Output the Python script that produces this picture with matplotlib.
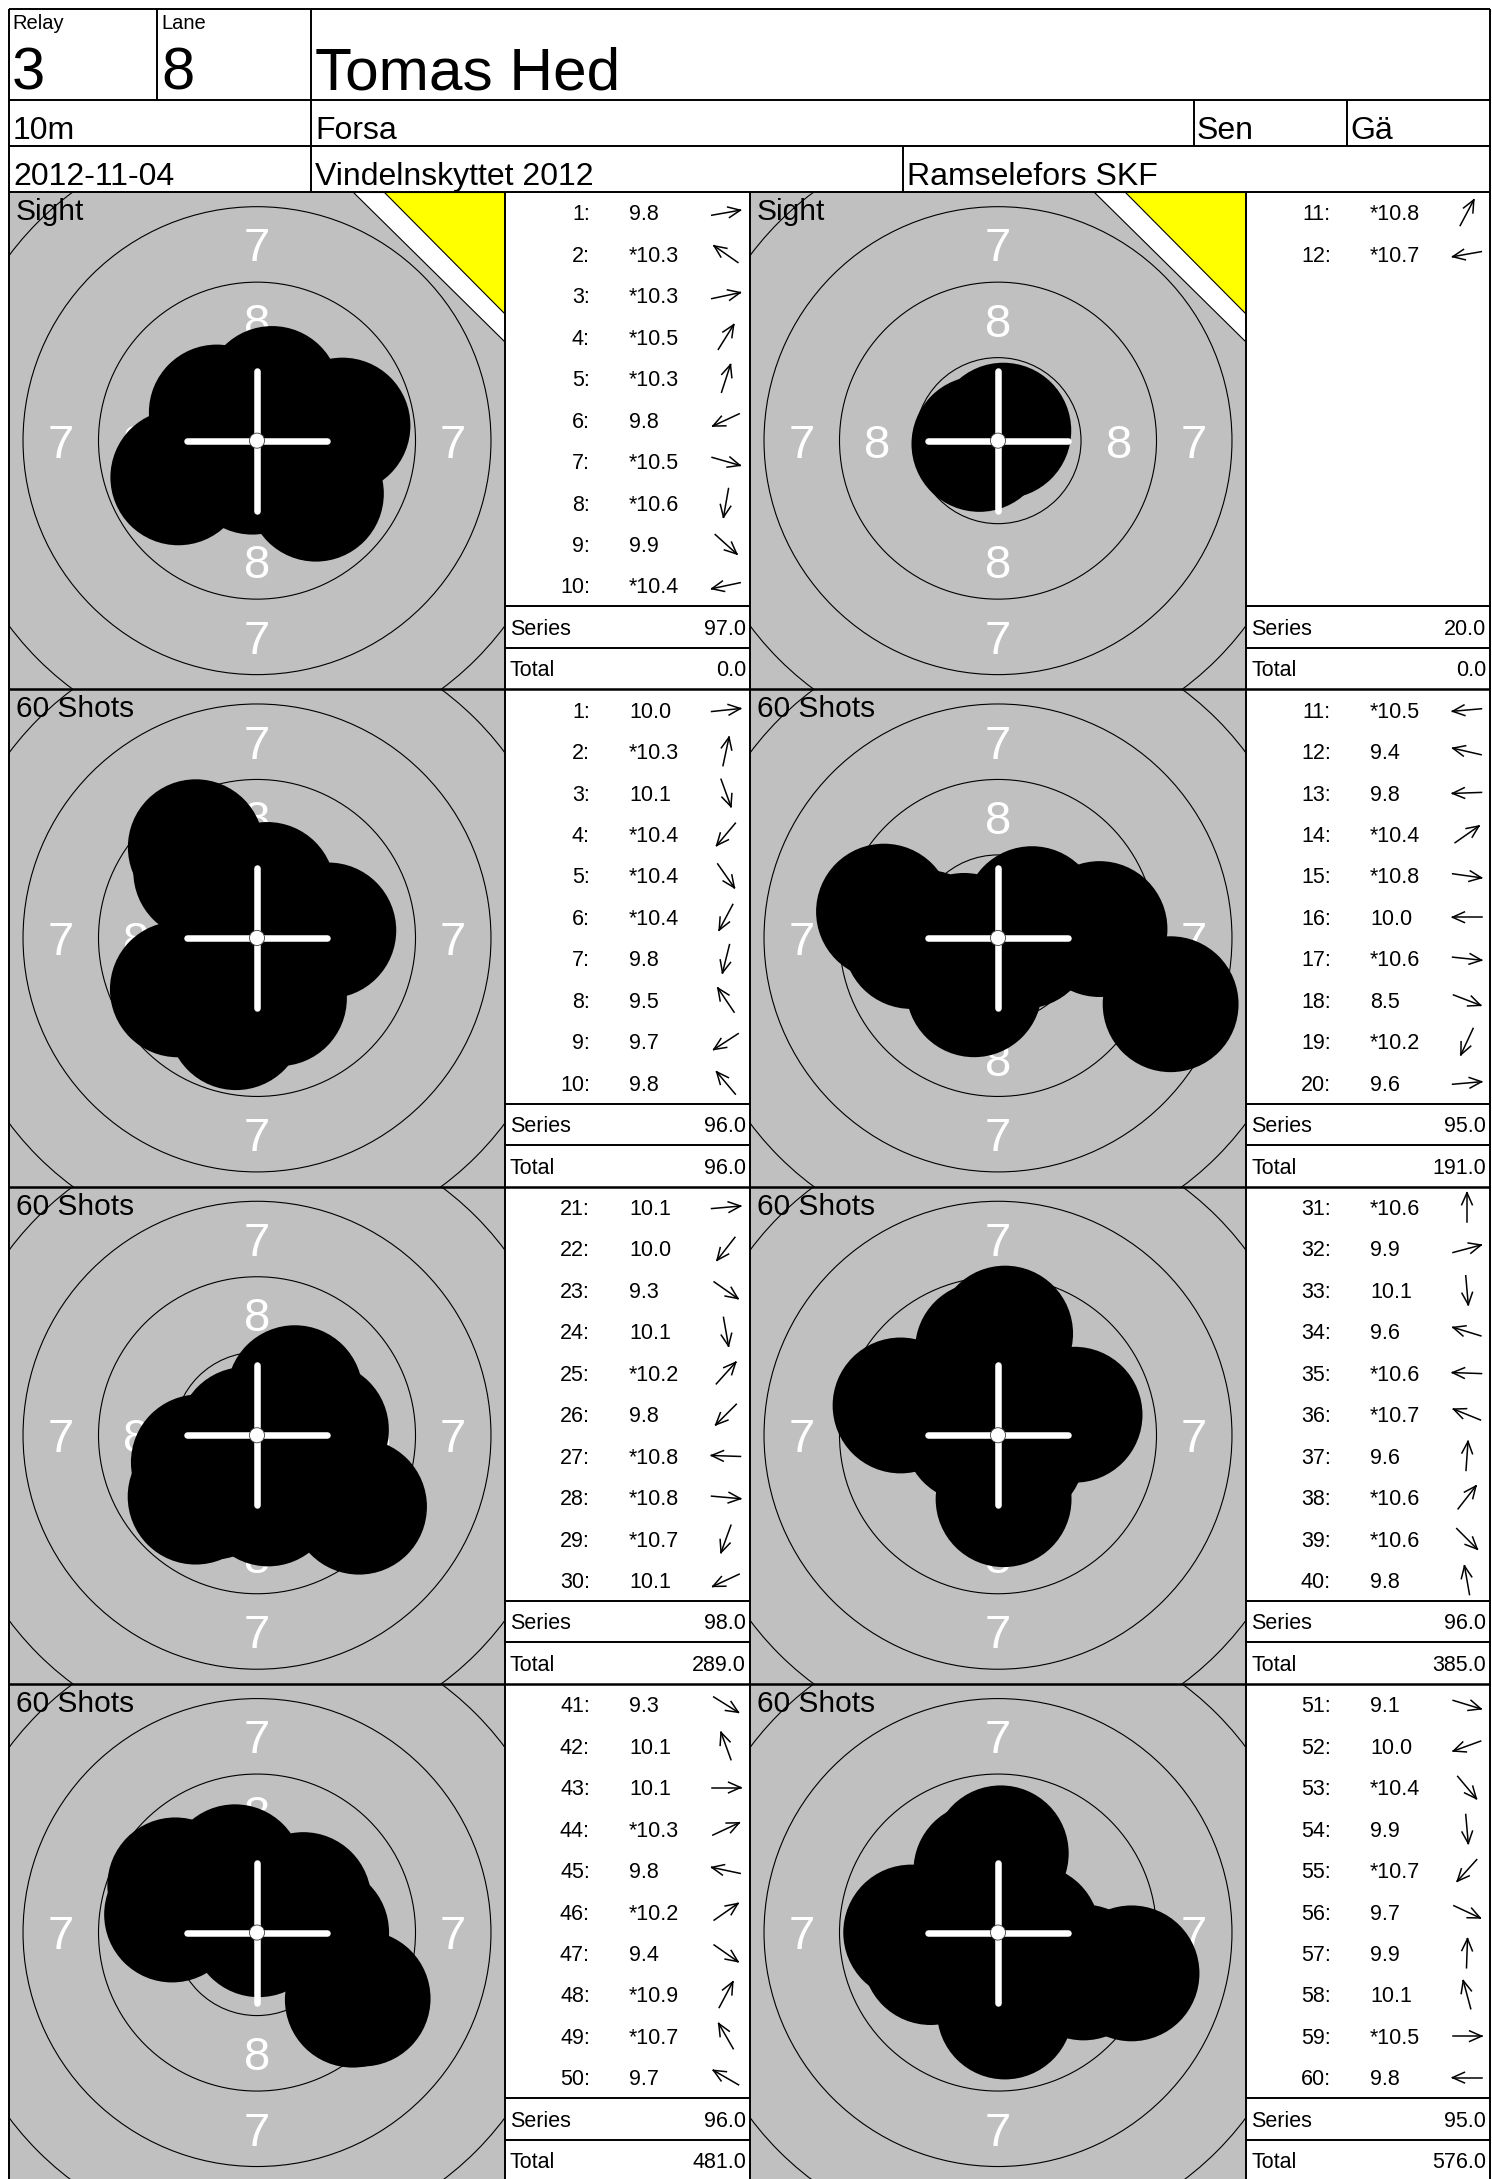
import matplotlib
matplotlib.use("Agg")
import matplotlib.pyplot as plt
from matplotlib.patches import Circle, Polygon
import numpy as np

plt.rcParams['font.family'] = ['Liberation Sans', 'DejaVu Sans']

# ---------------- data ----------------
relay = "3"
lane = "8"
shooter = "Tomas Hed"
distance = "10m"
place = "Forsa"
klass = "Sen"
district = "Gä"
date = "2012-11-04"
competition = "Vindelnskyttet 2012"
club = "Ramselefors SKF"

panel_titles = ["Sight", "Sight", "60 Shots", "60 Shots",
                "60 Shots", "60 Shots", "60 Shots", "60 Shots"]
shot_start = [1, 11, 1, 11, 21, 31, 41, 51]

scores_0 = ["9.8", "*10.3", "*10.3", "*10.5", "*10.3", "9.8", "*10.5", "*10.6", "9.9", "*10.4"]
angles_0 = [10, 145, 12, 58, 72, 205, -16, -100, -42, 192]
scores_1 = ["*10.8", "*10.7"]
angles_1 = [62, 190]
scores_2 = ["10.0", "*10.3", "10.1", "*10.4", "*10.4", "*10.4", "9.8", "9.5", "9.7", "9.8"]
angles_2 = [6, 78, -70, 230, -55, 242, 256, 124, 213, 130]
scores_3 = ["*10.5", "9.4", "9.8", "*10.4", "*10.8", "10.0", "*10.6", "8.5", "*10.2", "9.6"]
angles_3 = [185, 167, 182, 35, -8, 180, -6, -21, -115, 5]
scores_4 = ["10.1", "10.0", "9.3", "10.1", "*10.2", "9.8", "*10.8", "*10.8", "*10.7", "10.1"]
angles_4 = [5, 232, -35, -80, 48, 225, 178, -5, 250, 205]
scores_5 = ["*10.6", "9.9", "10.1", "9.6", "*10.6", "*10.7", "9.6", "*10.6", "*10.6", "9.8"]
angles_5 = [90, 15, -85, 163, 178, 158, 86, 52, -45, 100]
scores_6 = ["9.3", "10.1", "10.1", "*10.3", "9.8", "*10.2", "9.4", "*10.9", "*10.7", "9.7"]
angles_6 = [-32, 110, 0, 25, 168, 35, -35, 62, 120, 150]
scores_7 = ["9.1", "10.0", "*10.4", "9.9", "*10.7", "9.7", "9.9", "10.1", "*10.5", "9.8"]
angles_7 = [-17, 200, -50, -85, 228, -25, 88, 105, 0, 180]

series_sums = ["97.0", "20.0", "96.0", "95.0", "98.0", "96.0", "96.0", "95.0"]
totals = ["0.0", "0.0", "96.0", "191.0", "289.0", "385.0", "481.0", "576.0"]

panel_scores = [scores_0, scores_1, scores_2, scores_3, scores_4, scores_5, scores_6, scores_7]
panel_angles = [angles_0, angles_1, angles_2, angles_3, angles_4, angles_5, angles_6, angles_7]

# target geometry (10 m air rifle, mm)
ring_radii = [10.25, 7.75, 5.25, 2.75]
ring_numbers = [("7", 6.5), ("8", 4.0)]
ten_radius = 0.25
pellet_radius = 2.25
ring_width = 2.5

# ---------------- layout ----------------
W, H = 1492, 2179
PX = 30.19                     # pixels per mm on the target
fig = plt.figure(figsize=(W / 100, H / 100), dpi=100)
fig.patch.set_facecolor('white')

ROW_TOP = 192.0
ROW_H = 497.3
CELL = ROW_H / 12.0
TGT_X = [9, 750]
TGT_W = 496
TAB_X = [505, 1246]
TAB_W = [245, 244]


def fig_rect(x, y, w, h):
    return [x / W, 1 - (y + h) / H, w / W, h / H]


NUM_FS = 34
DIG_H = 0.716 * NUM_FS * 100 / 72 / PX   # digit height in mm

for k in range(8):
    r, c = divmod(k, 2)
    y0 = ROW_TOP + r * ROW_H
    ax = fig.add_axes(fig_rect(TGT_X[c], y0, TGT_W, ROW_H), zorder=1)
    hw, hh = TGT_W / 2 / PX, ROW_H / 2 / PX
    ax.set_xlim(-hw, hw)
    ax.set_ylim(-hh, hh)
    ax.set_facecolor('#C0C0C0')
    ax.set_xticks([])
    ax.set_yticks([])
    for s in ax.spines.values():
        s.set_visible(False)

    for rr in ring_radii:
        ax.add_patch(Circle((0, 0), rr, fill=False, ec='black', lw=0.8, zorder=1))
    for lab, rm in ring_numbers:
        for (px_, py_) in [(0, rm), (0, -rm), (-rm, 0), (rm, 0)]:
            ax.text(px_, py_ - DIG_H / 2, lab, ha='center', va='baseline',
                    color='white', fontsize=NUM_FS, zorder=2, clip_on=True)

    # shots
    for s, a in zip(panel_scores[k], panel_angles[k]):
        val = float(s.strip('*'))
        d = max(0.0, (10.95 - val) * ring_width)
        th = np.deg2rad(a)
        ax.add_patch(Circle((d * np.cos(th), d * np.sin(th)), pellet_radius,
                            fc='black', ec='none', zorder=3))

    # crosshair
    L = 70 / PX
    ax.plot([-L, L], [0, 0], color='white', lw=4.7, solid_capstyle='round', zorder=4)
    ax.plot([0, 0], [-L, L], color='white', lw=4.7, solid_capstyle='round', zorder=4)
    ax.add_patch(Circle((0, 0), ten_radius, fc='white', ec='#404040', lw=0.6, zorder=5))

    if panel_titles[k] == "Sight":
        wt = [(1 - 152 / TGT_W, 1), (1, 1), (1, 1 - 150 / ROW_H)]
        yt = [(1 - 121 / TGT_W, 1), (1, 1), (1, 1 - 122 / ROW_H)]
        ax.add_patch(Polygon(wt, closed=True, transform=ax.transAxes,
                             fc='white', ec='black', lw=0.8, zorder=6))
        ax.add_patch(Polygon(yt, closed=True, transform=ax.transAxes,
                             fc='#FFFF00', ec='black', lw=0.8, zorder=7))

# ---------------- page overlay (text, tables, lines) ----------------
pax = fig.add_axes([0, 0, 1, 1], zorder=5)
pax.set_xlim(0, W)
pax.set_ylim(H, 0)
pax.axis('off')


def hline(y, x1, x2, lw=1.4):
    pax.plot([x1, x2], [y, y], color='black', lw=lw, solid_capstyle='butt')


def vline(x, y1, y2, lw=1.4):
    pax.plot([x, x], [y1, y2], color='black', lw=lw, solid_capstyle='butt')


LEFT, RIGHT, TOP = 9, 1490, 9
# header lines
for y in [TOP, 100, 146, 192]:
    hline(y, LEFT, RIGHT)
vline(LEFT, TOP, H)
vline(RIGHT, TOP, H)
vline(157, TOP, 100)
vline(311, TOP, 192)
vline(1194, 100, 146)
vline(1347, 100, 146)
vline(903, 146, 192)

# header text
pax.text(12, 29, "Relay", fontsize=14.5, va='baseline')
pax.text(161, 29, "Lane", fontsize=14.5, va='baseline')
pax.text(12, 89, relay, fontsize=43, va='baseline')
pax.text(161, 89, lane, fontsize=43, va='baseline')
pax.text(315, 89, shooter, fontsize=43.5, va='baseline')
HFS = 23
pax.text(13, 139, distance, fontsize=HFS, va='baseline')
pax.text(315, 139, place, fontsize=HFS, va='baseline')
pax.text(1197, 139, klass, fontsize=HFS, va='baseline')
pax.text(1350, 139, district, fontsize=HFS, va='baseline')
pax.text(13, 185, date, fontsize=HFS, va='baseline')
pax.text(315, 185, competition, fontsize=HFS, va='baseline')
pax.text(907, 185, club, fontsize=HFS, va='baseline')

# panel grid lines
for r in range(1, 4):
    hline(ROW_TOP + r * ROW_H, LEFT, RIGHT, lw=1.8)
for x in [505, 750, 1246]:
    vline(x, ROW_TOP, H)

TXT_FS = 15.5
CAP = 0.716 * TXT_FS * 100 / 72
ARR_L = 29.0
HEAD_L = 13.0
HEAD_A = np.deg2rad(24)

for k in range(8):
    r, c = divmod(k, 2)
    y0 = ROW_TOP + r * ROW_H
    tx = TAB_X[c]
    tw = TAB_W[c]
    # panel title
    pax.text(TGT_X[c] + 7, y0 + 28, panel_titles[k], fontsize=21.5, va='baseline')
    # shot rows
    for i, (s, a) in enumerate(zip(panel_scores[k], panel_angles[k])):
        cy = y0 + CELL * (i + 0.5)
        pax.text(tx + 85, cy + CAP / 2, f"{shot_start[k] + i}:", fontsize=TXT_FS,
                 ha='right', va='baseline')
        pax.text(tx + 124, cy + CAP / 2, s, fontsize=TXT_FS, ha='left', va='baseline')
        th = np.deg2rad(a)
        ux, uy = np.cos(th), -np.sin(th)
        cx = tx + 221
        hx, hy = cx + ux * ARR_L / 2, cy + uy * ARR_L / 2
        tlx, tly = cx - ux * ARR_L / 2, cy - uy * ARR_L / 2
        pax.plot([tlx, hx], [tly, hy], color='black', lw=1.1)
        for sgn in (1, -1):
            ang = np.arctan2(-uy, -ux) + sgn * HEAD_A
            pax.plot([hx, hx + HEAD_L * np.cos(ang)], [hy, hy + HEAD_L * np.sin(ang)],
                     color='black', lw=1.1)
    # series / total
    hline(y0 + CELL * 10, tx, tx + tw)
    hline(y0 + CELL * 11, tx, tx + tw)
    cy = y0 + CELL * 10.5
    pax.text(tx + 5, cy + CAP / 2, "Series", fontsize=TXT_FS, va='baseline')
    pax.text(tx + tw - 4, cy + CAP / 2, series_sums[k], fontsize=TXT_FS, ha='right', va='baseline')
    cy = y0 + CELL * 11.5
    pax.text(tx + 5, cy + CAP / 2, "Total", fontsize=TXT_FS, va='baseline')
    pax.text(tx + tw - 4, cy + CAP / 2, totals[k], fontsize=TXT_FS, ha='right', va='baseline')

fig.savefig("out.png", dpi=100, facecolor='white')
